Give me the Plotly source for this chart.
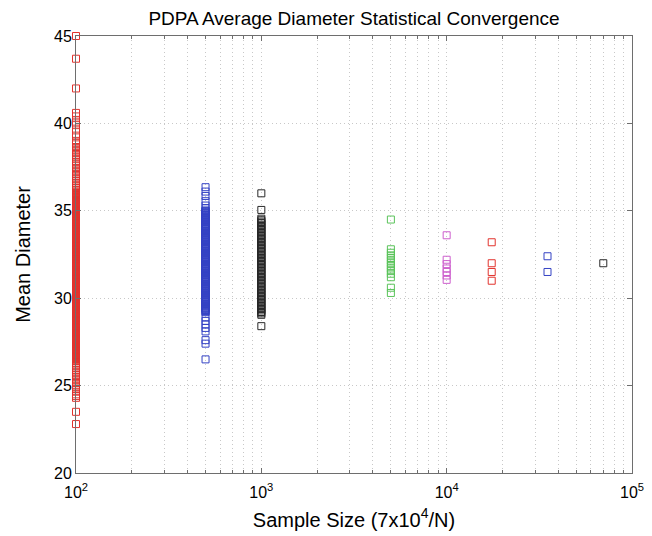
import plotly.graph_objects as go

# Sample sizes (7x10^4 / N) and the per-sample mean diameters obtained at each size
size_100 = 100
size_500 = 500
size_1000 = 1000
size_5000 = 5000
size_10000 = 10000
size_17500 = 17500
size_35000 = 35000
size_70000 = 70000

diam_100 = [
    45.0, 43.7, 42.0,
    40.6, 40.4, 40.1, 39.9, 39.6, 39.3, 39.0, 38.9, 38.8, 38.65, 38.5, 38.4, 38.3, 38.2,
    38.1, 37.95, 37.8, 37.7, 37.6, 37.45, 37.3, 37.2, 37.1, 37.0, 36.9, 36.8, 36.7, 36.6,
    36.5, 36.4, 36.3, 36.2, 36.1,
    36.02, 35.97, 35.91, 35.88, 35.83, 35.77, 35.74, 35.69, 35.62, 35.58, 35.55, 35.49,
    35.43, 35.40, 35.36, 35.30, 35.24, 35.21, 35.17, 35.11, 35.06, 35.02, 34.97, 34.93,
    34.87, 34.82, 34.79, 34.72, 34.68, 34.64, 34.59, 34.53, 34.49, 34.45, 34.38, 34.34,
    34.30, 34.25, 34.19, 34.16, 34.11, 34.05, 34.01, 33.96, 33.92, 33.86, 33.81, 33.78,
    33.73, 33.67, 33.63, 33.58, 33.54, 33.48, 33.44, 33.40, 33.35, 33.29, 33.26, 33.20,
    33.15, 33.11, 33.07, 33.01, 32.96, 32.93, 32.87, 32.82, 32.78, 32.74, 32.68, 32.63,
    32.59, 32.55, 32.49, 32.45, 32.41, 32.36, 32.30, 32.27, 32.22, 32.16, 32.12, 32.08,
    32.03, 31.97, 31.94, 31.89, 31.83, 31.79, 31.75, 31.70, 31.64, 31.60, 31.56, 31.51,
    31.46, 31.42, 31.37, 31.31, 31.28, 31.23, 31.17, 31.13, 31.09, 31.04, 30.98, 30.95,
    30.90, 30.84, 30.80, 30.76, 30.71, 30.65, 30.61, 30.57, 30.52, 30.47, 30.43, 30.38,
    30.32, 30.29, 30.24, 30.18, 30.14, 30.10, 30.05, 29.99, 29.96, 29.91, 29.85, 29.81,
    29.77, 29.72, 29.66, 29.62, 29.58, 29.53, 29.48, 29.44, 29.39, 29.33, 29.30, 29.25,
    29.19, 29.15, 29.11, 29.06, 29.00, 28.97, 28.92, 28.86, 28.82, 28.78, 28.73, 28.67,
    28.63, 28.59, 28.54, 28.49, 28.45, 28.40, 28.34, 28.31, 28.26, 28.20, 28.16, 28.12,
    28.07, 28.01, 27.98, 27.93, 27.87, 27.83, 27.79, 27.74, 27.68, 27.64, 27.60, 27.55,
    27.50, 27.46, 27.41, 27.35, 27.32, 27.27, 27.21, 27.17, 27.13, 27.08, 27.02, 26.99,
    26.94, 26.88, 26.84, 26.80, 26.75, 26.69, 26.65, 26.61, 26.56, 26.51,
    35.99, 35.94, 35.86, 35.80, 35.72, 35.66, 35.60, 35.52, 35.46, 35.38, 35.33, 35.27,
    35.19, 35.14, 35.08, 34.99, 34.95, 34.90, 34.85, 34.76, 34.70, 34.66, 34.61, 34.56,
    34.51, 34.47, 34.41, 34.36, 34.32, 34.27, 34.22, 34.18, 34.13, 34.08, 34.03, 33.98,
    33.94, 33.89, 33.84, 33.80, 33.75, 33.70, 33.65, 33.61, 33.56, 33.51, 33.46, 33.42,
    33.37, 33.32, 33.27, 33.23, 33.18, 33.13, 33.09, 33.04, 32.99, 32.94, 32.90, 32.85,
    32.80, 32.76, 32.71, 32.66, 32.61, 32.57, 32.52, 32.47, 32.43, 32.38, 32.33, 32.28,
    32.24, 32.19, 32.14, 32.10, 32.05, 32.00, 31.95, 31.91, 31.86, 31.81, 31.77, 31.72,
    31.67, 31.62, 31.58, 31.53, 31.48, 31.44, 31.39, 31.34, 31.29, 31.25, 31.20, 31.15,
    31.11, 31.06, 31.01, 30.96, 30.92, 30.87, 30.82, 30.78, 30.73, 30.68, 30.63, 30.59,
    30.54, 30.49, 30.45, 30.40, 30.35, 30.30, 30.26, 30.21, 30.16, 30.12, 30.07, 30.02,
    29.97, 29.93, 29.88, 29.83, 29.79, 29.74, 29.69, 29.64, 29.60, 29.55, 29.50, 29.46,
    29.41, 29.36, 29.31, 29.27, 29.22, 29.17, 29.13, 29.08, 29.03, 28.98, 28.94, 28.89,
    28.84, 28.80, 28.75, 28.70, 28.65, 28.61, 28.56, 28.51, 28.47, 28.42, 28.37, 28.32,
    28.28, 28.23, 28.18, 28.14, 28.09, 28.04, 27.99, 27.95, 27.90, 27.85, 27.81, 27.76,
    27.71, 27.66, 27.62, 27.57, 27.52, 27.48, 27.43, 27.38, 27.33, 27.29, 27.24, 27.19,
    27.15, 27.10, 27.05, 27.00, 26.96, 26.91, 26.86, 26.82, 26.77, 26.72, 26.67, 26.63,
    26.58, 26.53,
    26.45, 26.4, 26.3, 26.2, 26.1, 26.0, 25.9, 25.8, 25.7, 25.6, 25.5, 25.4, 25.3,
    25.15, 25.0, 24.9, 24.8, 24.65, 24.5, 24.4, 24.3, 23.5, 22.8,
]

diam_500 = [
    36.35, 36.10, 35.85, 35.55, 35.30, 35.15,
    35.02, 34.95, 34.90, 34.83, 34.77, 34.71, 34.64, 34.58, 34.52, 34.45, 34.39, 34.33,
    34.26, 34.20, 34.14, 34.07, 34.01, 33.95, 33.88, 33.82, 33.76, 33.69, 33.63, 33.57,
    33.50, 33.44, 33.38, 33.31, 33.25, 33.19, 33.12, 33.06, 33.00, 32.93, 32.87, 32.81,
    32.74, 32.68, 32.62, 32.55, 32.49, 32.43, 32.36, 32.30, 32.24, 32.17, 32.11, 32.05,
    31.98, 31.92, 31.86, 31.79, 31.73, 31.67, 31.60, 31.54, 31.48, 31.41, 31.35, 31.29,
    31.22, 31.16, 31.10, 31.03, 30.97, 30.91, 30.84, 30.78, 30.72, 30.65, 30.59, 30.53,
    30.46, 30.40, 30.34, 30.27, 30.21, 30.15, 30.08, 30.02, 29.96, 29.89, 29.83, 29.77,
    29.70, 29.64, 29.58, 29.51, 29.45, 29.39, 29.32, 29.26, 29.20,
    34.98, 34.86, 34.74, 34.61, 34.48, 34.36, 34.23, 34.10, 33.98, 33.85, 33.72, 33.60,
    33.47, 33.34, 33.22, 33.09, 32.96, 32.84, 32.71, 32.58, 32.46, 32.33, 32.20, 32.08,
    31.95, 31.82, 31.70, 31.57, 31.44, 31.32, 31.19, 31.06, 30.94, 30.81, 30.68, 30.56,
    30.43, 30.30, 30.18, 30.05, 29.92, 29.80, 29.67, 29.54, 29.42, 29.29,
    28.9, 28.7, 28.5, 28.3, 28.1, 27.6, 27.4, 26.5,
]

diam_1000 = [
    36.0, 35.05,
    34.55, 34.46, 34.38, 34.30, 34.21, 34.13, 34.05, 33.96, 33.88, 33.80, 33.71, 33.63,
    33.55, 33.46, 33.38, 33.30, 33.21, 33.13, 33.05, 32.96, 32.88, 32.80, 32.71, 32.63,
    32.55, 32.46, 32.38, 32.30, 32.21, 32.13, 32.05, 31.96, 31.88, 31.80, 31.71, 31.63,
    31.55, 31.46, 31.38, 31.30, 31.21, 31.13, 31.05, 30.96, 30.88, 30.80, 30.71, 30.63,
    30.55, 30.46, 30.38, 30.30, 30.21, 30.13, 30.05, 29.96, 29.88, 29.80, 29.71, 29.63,
    29.55, 29.46, 29.38, 29.30, 29.21, 29.13, 29.05,
    28.4,
]

diam_5000 = [34.5, 32.8, 32.6, 32.45, 32.3, 32.15, 32.0, 31.85, 31.7, 31.55, 31.4, 31.2, 30.6, 30.3]
diam_10000 = [33.6, 32.2, 31.95, 31.7, 31.5, 31.3, 31.05]
diam_17500 = [33.2, 32.0, 31.5, 31.0]
diam_35000 = [32.4, 31.5]
diam_70000 = [32.0]

x_tick_vals = [100, 1000, 10000, 100000]
x_tick_text = ["10<sup>2</sup>", "10<sup>3</sup>", "10<sup>4</sup>", "10<sup>5</sup>"]
y_tick_vals = [20, 25, 30, 35, 40, 45]

RED = "rgb(226,52,46)"
BLUE = "rgb(52,66,196)"
BLACK = "rgb(40,40,40)"
GREEN = "rgb(90,195,90)"
MAGENTA = "rgb(205,95,205)"

groups = [
    (size_100, diam_100, RED),
    (size_500, diam_500, BLUE),
    (size_1000, diam_1000, BLACK),
    (size_5000, diam_5000, GREEN),
    (size_10000, diam_10000, MAGENTA),
    (size_17500, diam_17500, RED),
    (size_35000, diam_35000, BLUE),
    (size_70000, diam_70000, BLACK),
]

fig = go.Figure()
for size, vals, color in groups:
    fig.add_trace(go.Scatter(
        x=[size] * len(vals),
        y=vals,
        mode="markers",
        marker=dict(symbol="square-open", size=7, color=color,
                    line=dict(width=1, color=color)),
        showlegend=False,
        cliponaxis=False,
        hoverinfo="x+y",
    ))

# minor log gridlines at 2..9 of each decade
minor_vals = [m * 10 ** d for d in (2, 3, 4) for m in range(2, 10)]

FONT = "Liberation Sans, Arial, Helvetica, sans-serif"
GRID = "rgb(200,200,200)"
GRID_DASH = "1px,3px"
AXIS = "rgb(110,110,110)"

fig.update_layout(
    width=652,
    height=536,
    margin=dict(l=76, r=20, t=36, b=63),
    paper_bgcolor="white",
    plot_bgcolor="white",
    font=dict(family=FONT, size=16, color="black"),
    title=dict(
        text="PDPA Average Diameter Statistical Convergence",
        x=(76 + 632) / 2 / 652, xanchor="center",
        y=1 - 18 / 536, yanchor="middle",
        font=dict(family=FONT, size=19, color="black"),
    ),
    xaxis=dict(
        type="log",
        range=[2, 5],
        automargin=False,
        tickmode="array",
        tickvals=x_tick_vals,
        ticktext=x_tick_text,
        ticks="inside",
        ticklen=5,
        tickcolor=AXIS,
        ticklabelstandoff=5,
        showline=True,
        linecolor=AXIS,
        linewidth=1,
        mirror="ticks",
        showgrid=True,
        gridcolor=GRID,
        griddash=GRID_DASH,
        gridwidth=1,
        zeroline=False,
        tickfont=dict(size=16),
        minor=dict(
            tickmode="array",
            tickvals=minor_vals,
            ticks="inside",
            ticklen=3,
            tickcolor=AXIS,
            showgrid=True,
            gridcolor=GRID,
            griddash=GRID_DASH,
            gridwidth=1,
        ),
        title=dict(text="Sample Size (7x10<sup>4</sup>/N)", font=dict(size=20), standoff=12),
    ),
    yaxis=dict(
        range=[20, 45],
        automargin=False,
        tickmode="array",
        tickvals=y_tick_vals,
        ticks="inside",
        ticklen=5,
        tickcolor=AXIS,
        showline=True,
        linecolor=AXIS,
        linewidth=1,
        mirror="ticks",
        showgrid=True,
        gridcolor=GRID,
        griddash=GRID_DASH,
        gridwidth=1,
        zeroline=False,
        tickfont=dict(size=16),
        title=dict(text="Mean Diameter", font=dict(size=20), standoff=18),
    ),
)

fig.write_html("out.html")
